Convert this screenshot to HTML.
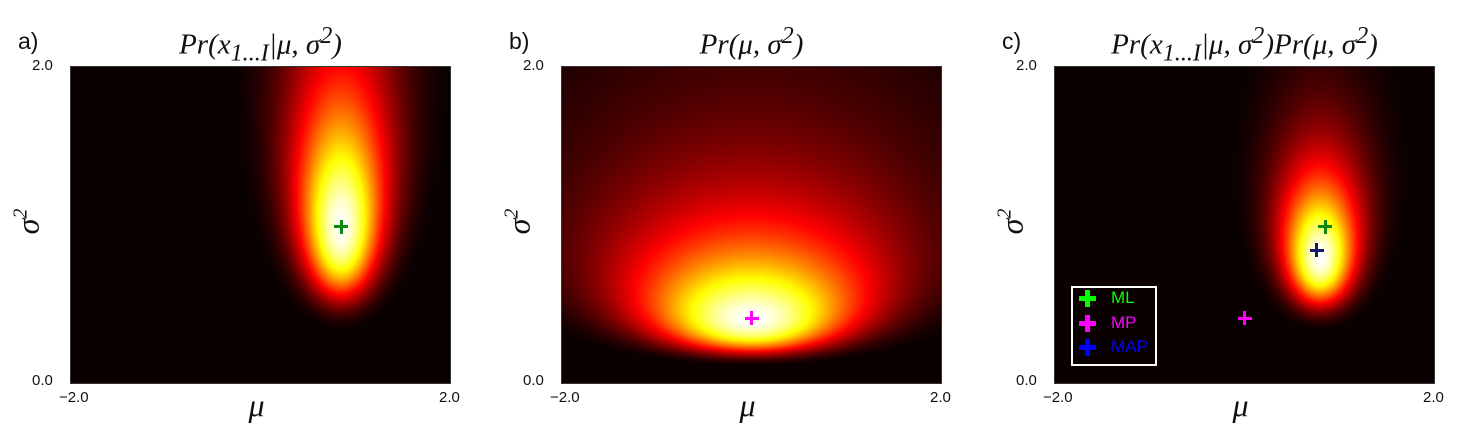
<!DOCTYPE html>
<html><head><meta charset="utf-8">
<style>
body{margin:0;background:#fff;width:1482px;height:437px;overflow:hidden;position:relative;font-family:"Liberation Sans",sans-serif}
.abs{position:absolute}
.plab{font-size:23px;color:#111}
.title{font-family:"Liberation Serif",serif;font-style:italic;font-size:29px;color:#111;text-align:center;white-space:nowrap}
.tick{font-size:15px;color:#111}
.mu{font-family:"Liberation Serif",serif;font-style:italic;font-size:32px;color:#111}
.sig{font-family:"Liberation Serif",serif;font-style:italic;font-size:32px;color:#111;transform:rotate(-90deg);transform-origin:center}
canvas{position:absolute;border:1px solid #333;box-sizing:content-box}
</style></head><body>
<script>
// ---- data ----
const muRange=[-2,2];
const varRange=[0,2];
const tickLabels=["-2.0","2.0","0.0","2.0"];
const panelLetters=["a)","b)","c)"];
const likeParams=[10,0.85,0.99]; // I, mean, variance of data
const priorParams=[1.5,1.23,0.65,0]; // alpha, beta, gamma, delta
const mlPoint=[0.85,0.99];
const mpPoint=[0,0.41];
const mapPoint=[0.76,0.84];
const legendLabels=["ML","MP","MAP"];

const panels=[{x:71,title:'Pr(x<sub>1...I</sub>|μ, σ<sup>2</sup>)',kind:'like'},
{x:562,title:'Pr(μ, σ<sup>2</sup>)',kind:'prior'},
{x:1055,title:'Pr(x<sub>1...I</sub>|μ, σ<sup>2</sup>)Pr(μ, σ<sup>2</sup>)',kind:'post'}];
const W=379,H=316,TOP=67;
function logLike(m,v){const[I,mm,s]=likeParams;return -(I/2)*Math.log(v)-I*(s+(m-mm)*(m-mm))/(2*v);}
function logPrior(m,v){const[a,b,g,d]=priorParams;return -(a+1.5)*Math.log(v)-(b+g*(m-d)*(m-d)/2)/v;}
function hot(t){const c=x=>Math.max(0,Math.min(1,x));return[c(t/0.365),c((t-0.365)/0.381),c((t-0.746)/0.254)];}
function mk(tag,cls,name,css,html){const e=document.createElement(tag);if(cls)e.className=cls;


e.style.cssText=css;if(html!==undefined)e.innerHTML=html;document.body.appendChild(e);return e;}
panels.forEach((p,i)=>{
  const sx=m=>p.x+(m-muRange[0])/(muRange[1]-muRange[0])*W;
  const sy=v=>TOP+H-(v-varRange[0])/(varRange[1]-varRange[0])*H;
  mk('div','abs plab','panel-label-'+panelLetters[i][0],`left:${p.x-53}px;top:28px`,panelLetters[i]);
  mk('div','abs title','panel-title-'+panelLetters[i][0],`left:${p.x+W/2-250}px;width:500px;top:22px`,p.title);
  const cv=document.createElement('canvas');cv.width=W;cv.height=H;
  
  
  cv.style.left=(p.x-1)+'px';cv.style.top=(TOP-1)+'px';document.body.appendChild(cv);
  const ctx=cv.getContext('2d');const img=ctx.createImageData(W,H);
  const vals=new Float64Array(W*H);let mx=-Infinity;
  for(let r=0;r<H;r++){const v=varRange[1]-(r+0.5)/H*(varRange[1]-varRange[0]);
    for(let c=0;c<W;c++){const m=muRange[0]+(c+0.5)/W*(muRange[1]-muRange[0]);
      let l=p.kind==='like'?logLike(m,v):p.kind==='prior'?logPrior(m,v):logLike(m,v)+logPrior(m,v);
      vals[r*W+c]=l;if(l>mx)mx=l;}}
  for(let k=0;k<W*H;k++){const t=Math.exp(vals[k]-mx);const [R,G,B]=hot(t);
    img.data[k*4]=Math.max(10,R*255);img.data[k*4+1]=G*255;img.data[k*4+2]=B*255;img.data[k*4+3]=255;}
  ctx.putImageData(img,0,0);
  mk('div','abs tick','y-tick-top',`left:${p.x-39}px;top:${TOP-10}px`,tickLabels[3]);
  mk('div','abs tick','y-tick-bottom',`left:${p.x-39}px;top:${TOP+H-11}px`,tickLabels[2]);
  mk('div','abs tick','x-tick-left',`left:${p.x-12}px;top:${TOP+H+6}px`,'−2.0');
  mk('div','abs tick','x-tick-right',`left:${p.x+W-11}px;top:${TOP+H+6}px`,tickLabels[1]);
  mk('div','abs mu','x-axis-title',`left:${p.x+W/2-12}px;top:${TOP+H+4}px`,'μ');
  mk('div','abs sig','y-axis-title',`left:${p.x-56}px;top:${TOP+H/2-22}px`,'σ<sup style="font-size:20px">2</sup>');
  const plus=(pt,col,name)=>{
    mk('div','abs',name,`left:${sx(pt[0])-7}px;top:${sy(pt[1])-1.5}px;width:14px;height:3px;background:${col}`);
    mk('div','abs',name+'-v',`left:${sx(pt[0])-1.5}px;top:${sy(pt[1])-7}px;width:3px;height:14px;background:${col}`);
  };
  if(p.kind==='like')plus(mlPoint,'#0a8a0a','ml-marker');
  if(p.kind==='prior')plus(mpPoint,'#ff00ff','mp-marker');
  if(p.kind==='post'){plus(mlPoint,'#0a8a0a','ml-marker');plus(mpPoint,'#ff00ff','mp-marker');plus(mapPoint,'#1a1a70','map-marker');
    mk('div','abs','legend',`left:1071px;top:286px;width:82px;height:76px;border:2px solid #fff;background:#0a0000`);
    const cols=['#00ff00','#ff00ff','#0000ff'];
    legendLabels.forEach((L,j)=>{
      const y=298+j*24.5;
      mk('div','abs','legend-'+L.toLowerCase()+'-marker',`left:1079px;top:${y-2}px;width:17px;height:5px;background:${cols[j]}`);
      mk('div','abs','legend-'+L.toLowerCase()+'-marker-v',`left:1085px;top:${y-8}px;width:5px;height:17px;background:${cols[j]}`);
      mk('div','abs','legend-'+L.toLowerCase()+'-label',`left:1111px;top:${y-10}px;font-size:17px;color:${cols[j]}`,L);
    });
  }
});
</script>
</body></html>
